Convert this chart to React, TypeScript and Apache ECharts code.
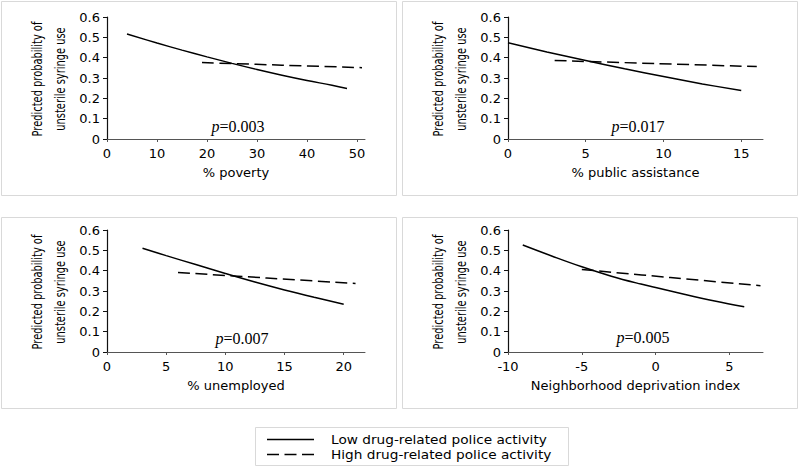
import React, { useEffect, useRef } from "react";
import * as echarts from "echarts";

// ---- Data ----
const povertyLowX = [4, 10, 15, 20, 25, 30, 35, 40, 45, 48];
const povertyLowY = [0.516, 0.472, 0.437, 0.404, 0.372, 0.342, 0.314, 0.288, 0.264, 0.248];
const povertyHighX = [19, 35, 51];
const povertyHighY = [0.376, 0.363, 0.351];

const assistLowX = [0, 2.5, 5, 7.5, 10, 12.5, 15];
const assistLowY = [0.473, 0.428, 0.386, 0.345, 0.307, 0.271, 0.238];
const assistHighX = [3, 9.5, 16];
const assistHighY = [0.386, 0.371, 0.356];

const unempLowX = [3, 5, 7.5, 10, 12.5, 15, 17.5, 20];
const unempLowY = [0.51, 0.474, 0.43, 0.386, 0.344, 0.305, 0.269, 0.235];
const unempHighX = [6, 13.5, 21];
const unempHighY = [0.391, 0.364, 0.337];

const ndiLowX = [-9, -7, -5, -3, -1, 0, 2, 4, 6];
const ndiLowY = [0.526, 0.471, 0.419, 0.373, 0.334, 0.317, 0.283, 0.251, 0.222];
const ndiHighX = [-5, 1, 7.1];
const ndiHighY = [0.406, 0.366, 0.326];

const xAxisNames = ["% poverty", "% public assistance", "% unemployed", "Neighborhood deprivation index"];
const xMins = [0, 0, 0, -10];
const xMaxs = [51.6, 16.4, 21.8, 7.27];
const xIntervals = [10, 5, 5, 5];
const pValues = ["0.003", "0.017", "0.007", "0.005"];
const yTitleLines = ["Predicted probability of", "unsterile syringe use"];
const legendLabels = ["Low drug-related police activity", "High drug-related police activity"];

const zip = (xs: number[], ys: number[]) => xs.map((x, i) => [x, ys[i]]);

const lowSeries = [
  zip(povertyLowX, povertyLowY),
  zip(assistLowX, assistLowY),
  zip(unempLowX, unempLowY),
  zip(ndiLowX, ndiLowY),
];
const highSeries = [
  zip(povertyHighX, povertyHighY),
  zip(assistHighX, assistHighY),
  zip(unempHighX, unempHighY),
  zip(ndiHighX, ndiHighY),
];

// layout
const grids = [
  { left: 107, top: 17, width: 258, height: 122 },
  { left: 508, top: 17, width: 255, height: 122 },
  { left: 107, top: 230, width: 258, height: 122 },
  { left: 508, top: 230, width: 255, height: 122 },
];
const panelBoxes = [
  { x: 1.5, y: 1.5, width: 395, height: 194 },
  { x: 402.5, y: 1.5, width: 395, height: 194 },
  { x: 1.5, y: 217.5, width: 395, height: 191 },
  { x: 402.5, y: 217.5, width: 395, height: 191 },
];
const pPos = [
  [238, 126],
  [638, 126],
  [242, 338],
  [643, 337],
];

const SANS = "'DejaVu Sans', Verdana, sans-serif";
const NARROW = "'Liberation Sans Narrow', 'DejaVu Sans Condensed', 'Arial Narrow', sans-serif";
const SERIF = "'Liberation Serif', 'DejaVu Serif', serif";

export default function App() {
  const ref = useRef<HTMLDivElement>(null);
  useEffect(() => {
    if (!ref.current) return;
    const chart = echarts.init(ref.current, undefined, { renderer: "svg" });

    const graphic: any[] = [];
    panelBoxes.forEach((b) => {
      graphic.push({
        type: "rect",
        shape: b,
        style: { fill: "none", stroke: "#d9d9d9", lineWidth: 1 },
        silent: true,
      });
    });
    grids.forEach((g, i) => {
      const cy = g.top + g.height / 2 + 1;
      [g.left - 69, g.left - 46].forEach((cx, j) => {
        graphic.push({
          type: "text",
          x: cx,
          y: cy,
          rotation: Math.PI / 2,
          scaleY: 1.2,
          style: {
            text: yTitleLines[j],
            font: `11px ${NARROW}`,
            fill: "#000",
            textAlign: "center",
            textVerticalAlign: "middle",
          },
        });
      });
      graphic.push({
        type: "text",
        x: pPos[i][0],
        y: pPos[i][1],
        style: {
          text: `{i|p}{n|=${pValues[i]}}`,
          rich: {
            i: { fontFamily: SERIF, fontStyle: "italic", fontSize: 16, fill: "#000" },
            n: { fontFamily: SERIF, fontSize: 16, fill: "#000" },
          },
          textAlign: "center",
          textVerticalAlign: "middle",
        },
      });
    });
    // legend
    graphic.push({
      type: "rect",
      shape: { x: 255.5, y: 427.5, width: 313, height: 38 },
      style: { fill: "#fff", stroke: "#d9d9d9", lineWidth: 1 },
    });
    graphic.push({
      type: "line",
      shape: { x1: 267, y1: 439.5, x2: 314, y2: 439.5 },
      style: { stroke: "#000", lineWidth: 1.5 },
    });
    graphic.push({
      type: "line",
      shape: { x1: 267, y1: 454.5, x2: 314, y2: 454.5 },
      style: { stroke: "#000", lineWidth: 1.5, lineDash: [12, 5.5] },
    });
    legendLabels.forEach((t, i) => {
      graphic.push({
        type: "text",
        x: 331,
        y: 439.5 + i * 15,
        scaleX: 1.14,
        style: { text: t, font: `12px ${SANS}`, fill: "#000", textVerticalAlign: "middle" },
      });
    });

    const option: any = {
      animation: false,
      backgroundColor: "#fff",
      grid: grids.map((g) => ({ ...g, containLabel: false })),
      xAxis: grids.map((_, i) => ({
        type: "value",
        gridIndex: i,
        min: xMins[i],
        max: xMaxs[i],
        interval: xIntervals[i],
        name: xAxisNames[i],
        nameLocation: "middle",
        nameGap: 27,
        nameTextStyle: { fontFamily: SANS, fontSize: 13, color: "#000" },
        axisLine: { onZero: false, lineStyle: { color: "#555", width: 1 } },
        axisTick: { show: true, length: 3, lineStyle: { color: "#555" } },
        axisLabel: {
          fontFamily: SANS,
          fontSize: 13,
          color: "#000",
          margin: 8,
          showMaxLabel: false,
          showMinLabel: true,
        },
        splitLine: { show: false },
      })),
      yAxis: grids.map((_, i) => ({
        type: "value",
        gridIndex: i,
        min: 0,
        max: 0.6,
        interval: 0.1,
        axisLine: { show: true, onZero: false, lineStyle: { color: "#111", width: 1.2 } },
        axisTick: { show: true, length: 4, lineStyle: { color: "#111" } },
        axisLabel: { fontFamily: SANS, fontSize: 13, color: "#000", margin: 7 },
        splitLine: { show: false },
      })),
      series: [
        ...lowSeries.map((d, i) => ({
          name: legendLabels[0],
          type: "line",
          xAxisIndex: i,
          yAxisIndex: i,
          data: d,
          smooth: 0.4,
          showSymbol: false,
          symbol: "none",
          lineStyle: { color: "#000", width: 1.5 },
          silent: true,
        })),
        ...highSeries.map((d, i) => ({
          name: legendLabels[1],
          type: "line",
          xAxisIndex: i,
          yAxisIndex: i,
          data: d,
          smooth: 0.4,
          showSymbol: false,
          symbol: "none",
          lineStyle: { color: "#000", width: 1.5, type: [12, 5.5] },
          silent: true,
        })),
      ],
      graphic,
    };
    chart.setOption(option);
    return () => chart.dispose();
  }, []);
  return (
    <div
      ref={ref}
      style={{ position: "fixed", left: 0, top: 0, width: 800, height: 468, background: "#fff" }}
    />
  );
}
